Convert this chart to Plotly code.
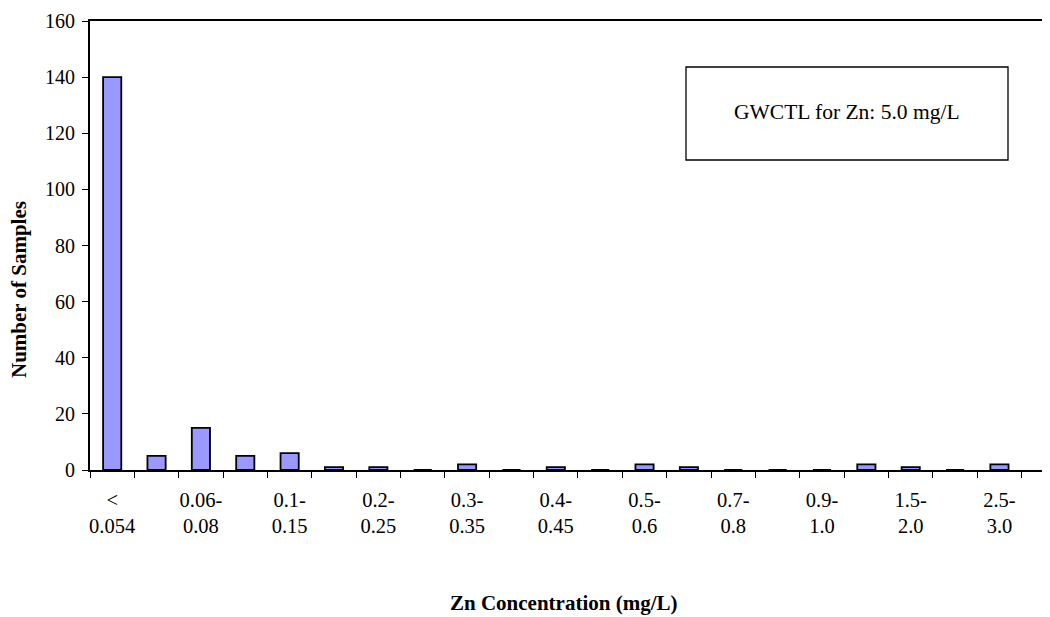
import plotly.graph_objects as go

# histogram bins (mg/L) and sample counts
bins = [
    "<0.054", "0.054-0.06", "0.06-0.08", "0.08-0.1", "0.1-0.15", "0.15-0.2",
    "0.2-0.25", "0.25-0.3", "0.3-0.35", "0.35-0.4", "0.4-0.45", "0.45-0.5",
    "0.5-0.6", "0.6-0.7", "0.7-0.8", "0.8-0.9", "0.9-1.0", "1.0-1.5",
    "1.5-2.0", "2.0-2.5", "2.5-3.0",
]
counts = [140, 5, 15, 5, 6, 1, 1, 0, 2, 0, 1, 0, 2, 1, 0, 0, 0, 2, 1, 0, 2]
y_ticks = [0, 20, 40, 60, 80, 100, 120, 140, 160]

note_text = "GWCTL for Zn: 5.0 mg/L"
x_title = "Zn Concentration (mg/L)"
y_title = "Number of Samples"

_SERIF = "Liberation Serif, Times New Roman, serif"
_FONT = dict(family=_SERIF, size=20, color="#000000")
_TITLE_FONT = dict(family=_SERIF, size=21, color="#000000")

# page body has an 8px margin, so the figure is shifted by that much;
# plot top kept a few px lower so the "160" label is not clipped
_OFF = 8
_TOP, _BOT = 21, 470
_L, _T, _B = 90 - _OFF, _TOP - _OFF, 617 - _BOT + _OFF
_PW = 1050 - _L
_PH = 617 - _T - _B


def _px(x: float) -> float:
    return (x - 90) / _PW


def _py(y: float) -> float:
    return (_BOT - y) / _PH


def _tick_label(b: str, i: int) -> str:
    # only every second bin gets a label, split over two lines like the original
    if i % 2:
        return ""
    if b.startswith("<"):
        return "&lt;<br>" + b[1:]
    lo, hi = b.split("-")
    return lo + "-<br>" + hi


tick_text = [_tick_label(b, i) for i, b in enumerate(bins)]

fig = go.Figure(
    go.Bar(
        x=bins,
        y=counts,
        width=0.41,
        marker=dict(color="#9999FF", line=dict(color="#000000", width=1.8)),
        showlegend=False,
    )
)

fig.update_layout(
    width=1050,
    height=617,
    paper_bgcolor="white",
    plot_bgcolor="white",
    font=_FONT,
    margin=dict(l=_L, r=0, t=_T, b=_B, autoexpand=False),
    annotations=[
        dict(
            text=note_text,
            xref="paper", yref="paper",
            x=_px(847), y=_py(112),
            xanchor="center", yanchor="middle",
            showarrow=False,
            font=dict(family=_SERIF, size=21.5, color="#000000"),
        ),
        dict(
            text=f"<b>{x_title}</b>",
            xref="paper", yref="paper",
            x=_px(564), y=_py(603),
            xanchor="center", yanchor="middle",
            showarrow=False,
            font=_TITLE_FONT,
        ),
        dict(
            text=f"<b>{y_title}</b>",
            xref="paper", yref="paper",
            x=_px(19), y=_py(290),
            xanchor="center", yanchor="middle",
            textangle=-90,
            showarrow=False,
            font=_TITLE_FONT,
        ),
    ],
    shapes=[
        dict(
            type="rect",
            xref="paper", yref="paper",
            x0=_px(686), x1=_px(1008),
            y0=_py(160), y1=_py(67),
            line=dict(color="#000000", width=1.3),
            fillcolor="rgba(0,0,0,0)",
        )
    ],
)

fig.update_xaxes(
    type="category",
    range=[-0.5, 21.32],
    tickmode="array",
    tickvals=bins,
    ticktext=tick_text,
    tickson="boundaries",
    tickangle=0,
    automargin=False,
    ticks="outside",
    ticklen=6,
    tickwidth=1.3,
    tickcolor="#000000",
    ticklabelstandoff=10,
    showline=True,
    linewidth=2,
    linecolor="#000000",
    mirror=True,
    showgrid=False,
    zeroline=False,
    ticklabeloverflow="allow",
    tickfont=dict(family=_SERIF, size=20.5, color="#000000"),
)
fig.update_yaxes(
    range=[0, 160],
    tickmode="array",
    tickvals=y_ticks,
    automargin=False,
    ticks="outside",
    ticklen=6,
    tickwidth=1.3,
    tickcolor="#000000",
    ticklabelstandoff=3,
    showline=True,
    linewidth=2,
    linecolor="#000000",
    showgrid=False,
    zeroline=False,
    ticklabeloverflow="allow",
    tickfont=_FONT,
)

fig.write_html("out.html")
